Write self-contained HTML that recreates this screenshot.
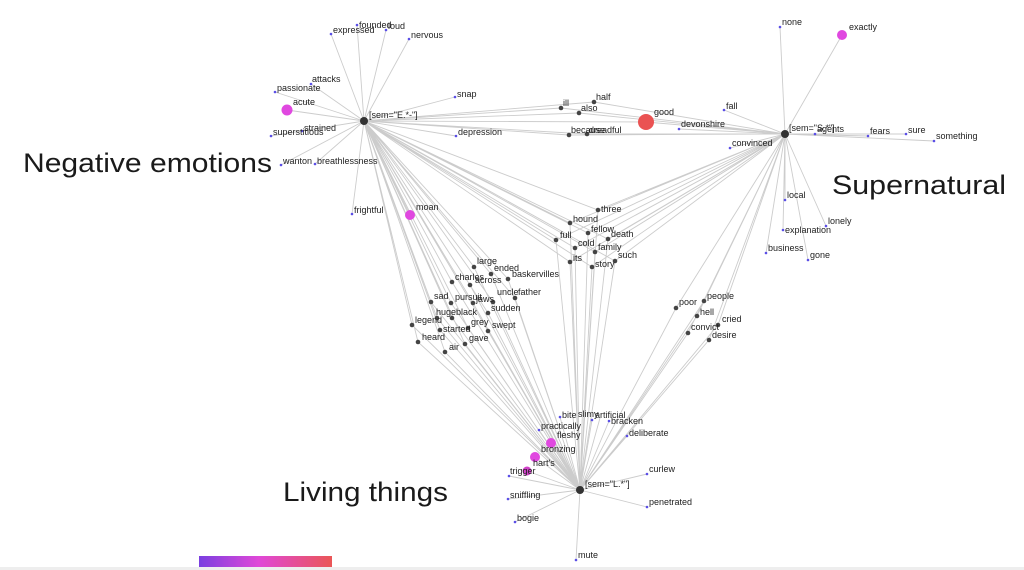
<!DOCTYPE html>
<html><head><meta charset="utf-8"><style>
html,body{margin:0;padding:0;background:#fff;}
svg{display:block;}
.l{stroke:#cccccc;stroke-width:0.9;fill:none;}
.t{font-family:"Liberation Sans",sans-serif;font-size:9px;fill:#222;}
.h{font-family:"Liberation Sans",sans-serif;font-size:27px;fill:#1a1a1a;}
.b{fill:#5a4ee6;}
.g{fill:#444;}
</style></head><body>
<svg width="1024" height="570" viewBox="0 0 1024 570" xmlns="http://www.w3.org/2000/svg">
<defs><linearGradient id="gr" x1="0" x2="1"><stop offset="0" stop-color="#7a3fe0"/><stop offset="0.45" stop-color="#e048d8"/><stop offset="1" stop-color="#ea5656"/></linearGradient></defs>
<g class="l">
<path d="M364 121L331 34M364 121L357 25M364 121L386 30M364 121L409 39M364 121L311 84M364 121L275 92M364 121L287 110M364 121L302 131M364 121L271 136M364 121L281 165M364 121L315 164M364 121L352 214M364 121L455 97M364 121L456 136M364 121L410 215"/>
<path d="M785 134L780 27M785 134L842 35M785 134L724 110M785 134L679 129M785 134L730 148M785 134L815 134M785 134L868 136M785 134L906 134M785 134L934 141M785 134L785 200M785 134L783 230M785 134L826 226M785 134L766 253M785 134L808 260"/>
<path d="M580 490L560 417M580 490L592 420M580 490L600 418M580 490L609 421M580 490L627 436M580 490L539 430M580 490L551 443M580 490L535 457M580 490L527 471M580 490L509 476M580 490L647 474M580 490L508 499M580 490L515 522M580 490L647 507M580 490L576 560"/>
<path d="M364 121L561 108L785 134M364 121L579 113L785 134M364 121L594 102L785 134M364 121L646 122L785 134M364 121L569 135L785 134M364 121L587 134L785 134"/>
<path d="M364 121L598 210L785 134M598 210L580 490M364 121L570 223L785 134M570 223L580 490M364 121L588 233L785 134M588 233L580 490M364 121L608 239L785 134M608 239L580 490M364 121L556 240L785 134M556 240L580 490M364 121L575 248L785 134M575 248L580 490M364 121L595 252L785 134M595 252L580 490M364 121L570 262L785 134M570 262L580 490M364 121L592 267L785 134M592 267L580 490M364 121L615 261L785 134M615 261L580 490"/>
<path d="M364 121L474 267L580 490M364 121L491 274L580 490M364 121L508 279L580 490M364 121L452 282L580 490M364 121L470 285L580 490M364 121L431 302L580 490M364 121L451 303L580 490M364 121L473 303L580 490M364 121L493 302L580 490M364 121L515 298L580 490M364 121L488 313L580 490M364 121L437 318L580 490M364 121L452 318L580 490M364 121L412 325L580 490M364 121L468 328L580 490M364 121L440 330L580 490M364 121L488 331L580 490M364 121L418 342L580 490M364 121L465 344L580 490M364 121L445 352L580 490"/>
<path d="M785 134L676 308L580 490M785 134L704 301L580 490M785 134L697 316L580 490M785 134L718 325L580 490M785 134L688 333L580 490M785 134L709 340L580 490"/>
</g>
<g class="b">
<circle cx="331" cy="34" r="1.3"/><circle cx="357" cy="25" r="1.3"/><circle cx="386" cy="30" r="1.3"/><circle cx="409" cy="39" r="1.3"/><circle cx="311" cy="84" r="1.3"/><circle cx="275" cy="92" r="1.3"/><circle cx="302" cy="131" r="1.3"/><circle cx="271" cy="136" r="1.3"/><circle cx="281" cy="165" r="1.3"/><circle cx="315" cy="164" r="1.3"/><circle cx="352" cy="214" r="1.3"/><circle cx="455" cy="97" r="1.3"/><circle cx="456" cy="136" r="1.3"/>
<circle cx="780" cy="27" r="1.3"/><circle cx="724" cy="110" r="1.3"/><circle cx="679" cy="129" r="1.3"/><circle cx="730" cy="148" r="1.3"/><circle cx="815" cy="134" r="1.3"/><circle cx="868" cy="136" r="1.3"/><circle cx="906" cy="134" r="1.3"/><circle cx="934" cy="141" r="1.3"/><circle cx="785" cy="200" r="1.3"/><circle cx="783" cy="230" r="1.3"/><circle cx="826" cy="226" r="1.3"/><circle cx="766" cy="253" r="1.3"/><circle cx="808" cy="260" r="1.3"/>
<circle cx="560" cy="417" r="1.3"/><circle cx="592" cy="420" r="1.3"/><circle cx="609" cy="421" r="1.3"/><circle cx="627" cy="436" r="1.3"/><circle cx="539" cy="430" r="1.3"/><circle cx="509" cy="476" r="1.3"/><circle cx="647" cy="474" r="1.3"/><circle cx="508" cy="499" r="1.3"/><circle cx="515" cy="522" r="1.3"/><circle cx="647" cy="507" r="1.3"/><circle cx="576" cy="560" r="1.3"/>
</g>
<g class="g">
<circle cx="561" cy="108" r="2.3"/><circle cx="579" cy="113" r="2.3"/><circle cx="594" cy="102" r="2.3"/><circle cx="569" cy="135" r="2.3"/><circle cx="587" cy="134" r="2.3"/>
<circle cx="598" cy="210" r="2.3"/><circle cx="570" cy="223" r="2.3"/><circle cx="588" cy="233" r="2.3"/><circle cx="608" cy="239" r="2.3"/><circle cx="556" cy="240" r="2.3"/><circle cx="575" cy="248" r="2.3"/><circle cx="595" cy="252" r="2.3"/><circle cx="570" cy="262" r="2.3"/><circle cx="592" cy="267" r="2.3"/><circle cx="615" cy="261" r="2.3"/>
<circle cx="474" cy="267" r="2.3"/><circle cx="491" cy="274" r="2.3"/><circle cx="508" cy="279" r="2.3"/><circle cx="452" cy="282" r="2.3"/><circle cx="470" cy="285" r="2.3"/><circle cx="431" cy="302" r="2.3"/><circle cx="451" cy="303" r="2.3"/><circle cx="473" cy="303" r="2.3"/><circle cx="493" cy="302" r="2.3"/><circle cx="515" cy="298" r="2.3"/><circle cx="488" cy="313" r="2.3"/><circle cx="437" cy="318" r="2.3"/><circle cx="452" cy="318" r="2.3"/><circle cx="412" cy="325" r="2.3"/><circle cx="468" cy="328" r="2.3"/><circle cx="440" cy="330" r="2.3"/><circle cx="488" cy="331" r="2.3"/><circle cx="418" cy="342" r="2.3"/><circle cx="465" cy="344" r="2.3"/><circle cx="445" cy="352" r="2.3"/>
<circle cx="676" cy="308" r="2.3"/><circle cx="704" cy="301" r="2.3"/><circle cx="697" cy="316" r="2.3"/><circle cx="718" cy="325" r="2.3"/><circle cx="688" cy="333" r="2.3"/><circle cx="709" cy="340" r="2.3"/>
</g>
<circle cx="364" cy="121" r="4" fill="#333"/><circle cx="785" cy="134" r="4" fill="#333"/><circle cx="580" cy="490" r="4" fill="#333"/>
<circle cx="287" cy="110" r="5.5" fill="#e048e0"/><circle cx="410" cy="215" r="5" fill="#e048e0"/><circle cx="842" cy="35" r="5" fill="#e048e0"/><circle cx="646" cy="122" r="8" fill="#ea5252"/>
<circle cx="551" cy="443" r="5" fill="#e048e0"/><circle cx="535" cy="457" r="5" fill="#e048e0"/><circle cx="527" cy="471" r="4.5" fill="#d040c8"/>
<g class="t">
<text x="333" y="33">expressed</text><text x="359" y="28">founded</text><text x="388" y="29">loud</text><text x="411" y="38">nervous</text><text x="312" y="82">attacks</text><text x="277" y="91">passionate</text><text x="293" y="105">acute</text><text x="304" y="131">strained</text><text x="273" y="135">superstitious</text><text x="283" y="164">wanton</text><text x="317" y="164">breathlessness</text><text x="354" y="213">frightful</text><text x="457" y="97">snap</text><text x="458" y="135">depression</text><text x="416" y="210">moan</text>
<text x="369" y="118">[sem="E.*-"]</text>
<text x="563" y="106">ill</text><text x="581" y="111">also</text><text x="596" y="100">half</text><text x="654" y="115">good</text><text x="571" y="133">because</text><text x="589" y="133">dreadful</text>
<text x="681" y="127">devonshire</text><text x="726" y="109">fall</text><text x="732" y="146">convinced</text><text x="782" y="25">none</text><text x="849" y="30">exactly</text>
<text x="789" y="131">[sem="S.*"]</text><text x="817" y="132">agents</text><text x="870" y="134">fears</text><text x="908" y="133">sure</text><text x="936" y="139">something</text>
<text x="787" y="198">local</text><text x="785" y="233">explanation</text><text x="828" y="224">lonely</text><text x="768" y="251">business</text><text x="810" y="258">gone</text>
<text x="601" y="212">three</text><text x="573" y="222">hound</text><text x="591" y="232">fellow</text><text x="611" y="237">death</text><text x="560" y="238">full</text><text x="578" y="246">cold</text><text x="598" y="250">family</text><text x="573" y="261">its</text><text x="595" y="267">story</text><text x="618" y="258">such</text>
<text x="477" y="264">large</text><text x="494" y="271">ended</text><text x="512" y="277">baskervilles</text><text x="455" y="280">charles</text><text x="475" y="283">across</text><text x="434" y="299">sad</text><text x="455" y="300">pursuit</text><text x="476" y="302">jaws</text><text x="497" y="295">uncle</text><text x="518" y="295">father</text><text x="491" y="311">sudden</text><text x="436" y="315">huge</text><text x="456" y="315">black</text><text x="415" y="323">legend</text><text x="471" y="325">grey</text><text x="443" y="332">started</text><text x="492" y="328">swept</text><text x="422" y="340">heard</text><text x="469" y="341">gave</text><text x="449" y="350">air</text>
<text x="679" y="305">poor</text><text x="707" y="299">people</text><text x="700" y="315">hell</text><text x="722" y="322">cried</text><text x="691" y="330">convict</text><text x="712" y="338">desire</text>
<text x="562" y="418">bite</text><text x="578" y="417">slimy</text><text x="595" y="418">artificial</text><text x="611" y="424">bracken</text><text x="629" y="436">deliberate</text><text x="541" y="429">practically</text><text x="557" y="438">fleshy</text><text x="541" y="452">bronzing</text><text x="533" y="466">hart's</text><text x="510" y="474">trigger</text>
<text x="585" y="487">[sem="L.*"]</text><text x="649" y="472">curlew</text><text x="510" y="498">sniffling</text><text x="517" y="521">bogie</text><text x="649" y="505">penetrated</text><text x="578" y="558">mute</text>
</g>
<text class="h" x="23" y="172" textLength="249" lengthAdjust="spacingAndGlyphs">Negative emotions</text>
<text class="h" x="832" y="194" textLength="174" lengthAdjust="spacingAndGlyphs">Supernatural</text>
<text class="h" x="283" y="501" textLength="165" lengthAdjust="spacingAndGlyphs">Living things</text>
<rect x="199" y="556" width="133" height="11" fill="url(#gr)"/>
<rect x="0" y="567" width="1024" height="3" fill="#eeeeee"/>
</svg>
</body></html>
